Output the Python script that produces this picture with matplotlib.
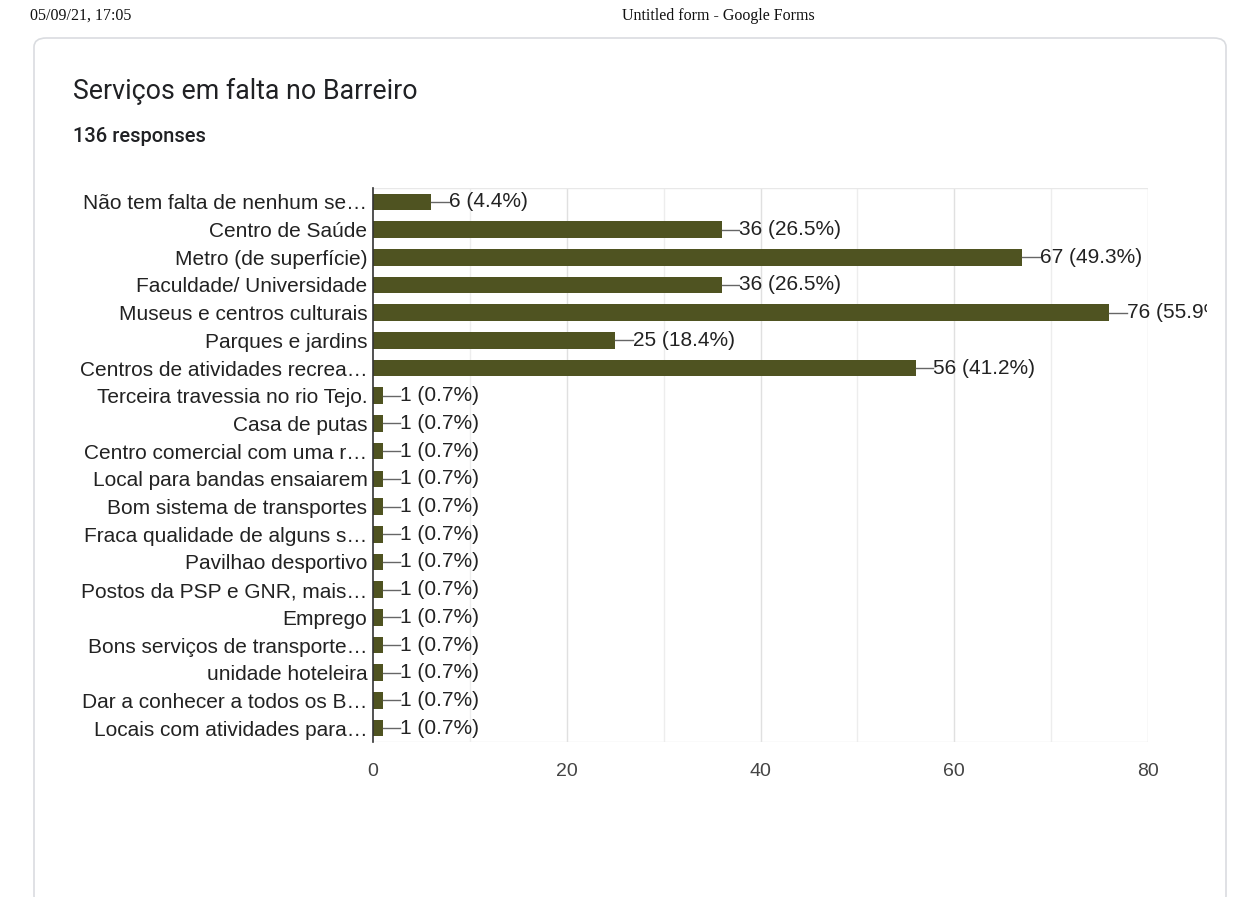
import matplotlib
matplotlib.use("Agg")
import matplotlib.pyplot as plt
from matplotlib.patches import FancyBboxPatch
from matplotlib.transforms import Bbox, TransformedBbox

categories = [
    "Não tem falta de nenhum se…",
    "Centro de Saúde",
    "Metro (de superfície)",
    "Faculdade/ Universidade",
    "Museus e centros culturais",
    "Parques e jardins",
    "Centros de atividades recrea…",
    "Terceira travessia no rio Tejo.",
    "Casa de putas",
    "Centro comercial com uma r…",
    "Local para bandas ensaiarem",
    "Bom sistema de transportes",
    "Fraca qualidade de alguns s…",
    "Pavilhao desportivo",
    "Postos da PSP e GNR, mais…",
    "Emprego",
    "Bons serviços de transporte…",
    "unidade hoteleira",
    "Dar a conhecer a todos os B…",
    "Locais com atividades para…",
]
counts = [6, 36, 67, 36, 76, 25, 56, 1, 1, 1, 1, 1, 1, 1, 1, 1, 1, 1, 1, 1]
percents = [4.4, 26.5, 49.3, 26.5, 55.9, 18.4, 41.2,
            0.7, 0.7, 0.7, 0.7, 0.7, 0.7, 0.7, 0.7, 0.7, 0.7, 0.7, 0.7, 0.7]
xticks = [0, 20, 40, 60, 80]

W, H = 1233, 897
BAR = "#4f5321"
TXT = "#222222"
FONT = "Liberation Sans"

fig = plt.figure(figsize=(W / 100, H / 100), dpi=100)
fig.patch.set_facecolor("white")

def fx(px):
    return px / W

def fy(py):
    return 1 - py / H

# page header
fig.text(fx(30), fy(16), "05/09/21, 17:05", family="Liberation Serif",
         fontsize=11.5, color="#111111", va="center", ha="left")
fig.text(fx(718), fy(16), "Untitled form - Google Forms", family="Liberation Serif",
         fontsize=11.5, color="#111111", va="center", ha="center")

# card outline
card = FancyBboxPatch((fx(34), fy(905)), fx(1226) - fx(34), fy(38) - fy(905),
                      boxstyle="round,pad=0,rounding_size=0.01",
                      transform=fig.transFigure, facecolor="none",
                      edgecolor="#dadce0", linewidth=1.2, zorder=0)
fig.patches.append(card)

fig.text(fx(73), fy(91), "Serviços em falta no Barreiro", family="Roboto",
         fontsize=19.3, color="#202124", va="center", ha="left")
fig.text(fx(73), fy(136), "136 responses", family="Roboto", fontweight="medium",
         fontsize=14.5, color="#202124", va="center", ha="left")

# chart area
left, right, top, bottom = 373, 1148, 188, 742
ax = fig.add_axes([fx(left), fy(bottom), fx(right) - fx(left), fy(top) - fy(bottom)])
ax.set_facecolor("none")
n = len(categories)
y = list(range(n))
ax.barh(y, counts, height=0.6, color=BAR, zorder=3)
ax.set_ylim(n - 0.5, -0.5)
ax.set_xlim(0, 80)

ax.set_yticks(y)
ax.set_yticklabels(categories, family=FONT, fontsize=15, color=TXT)
ax.set_xticks(xticks)
ax.set_xticklabels([str(t) for t in xticks], family=FONT, fontsize=14, color="#444444")
ax.tick_params(axis="y", length=0, pad=4)
ax.tick_params(axis="x", length=0, pad=15)

for v in range(10, 81, 10):
    ax.axvline(v, color="#ededed" if v % 20 else "#e0e0e0", lw=1, zorder=1)
ax.axhline(-0.5, color="#e8e8e8", lw=1, zorder=1)
ax.axhline(n - 0.5, color="#e8e8e8", lw=1, zorder=1)

for s in ["top", "right", "bottom"]:
    ax.spines[s].set_visible(False)
ax.spines["left"].set_color("#333333")
ax.spines["left"].set_linewidth(1.2)
ax.spines["left"].set_zorder(4)

# value labels with short leader lines, cut off at the card's inner edge
clip = TransformedBbox(Bbox([[0, 0], [fx(1207), 1]]), fig.transFigure)
lead = 1.8
for yi, c, p in zip(y, counts, percents):
    ax.plot([c, c + lead], [yi, yi], color="#666666", lw=1, zorder=3,
            clip_on=False)
    t = ax.text(c + lead, yi, f"{c} ({p}%)", family=FONT, fontsize=15,
                color=TXT, va="center", ha="left")
    t.set_clip_box(clip)
    t.set_clip_on(True)

fig.savefig("out.png", dpi=100, facecolor="white")
